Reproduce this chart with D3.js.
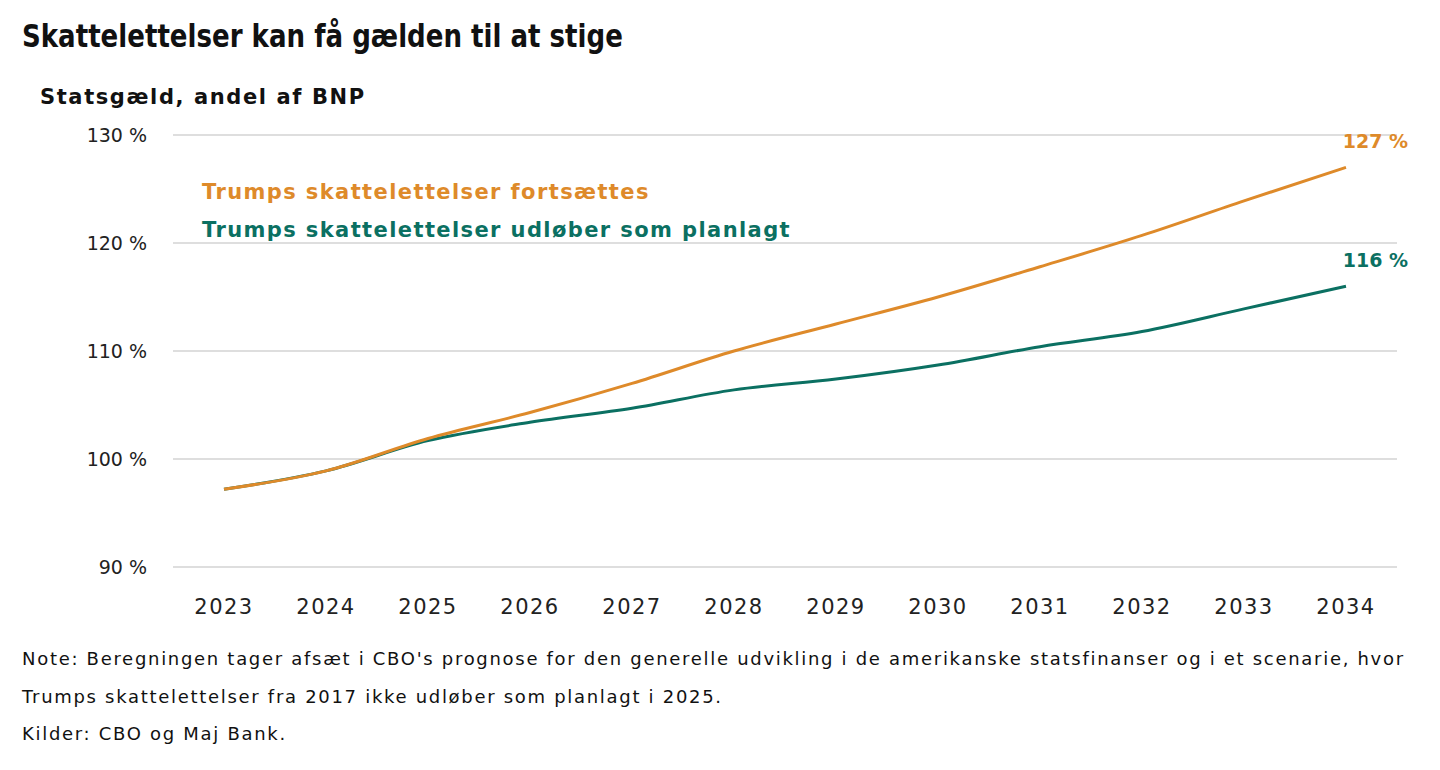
<!DOCTYPE html>
<html>
<head>
<meta charset="utf-8">
<script src="https://cdn.jsdelivr.net/npm/d3@7"></script>
<style>
  body { margin: 0; background: #fff; }
  text { font-family: "DejaVu Sans", Verdana, sans-serif; }
</style>
</head>
<body>
<svg id="chart"></svg>
<script>
// Data
const years = ["2023", "2024", "2025", "2026", "2027", "2028", "2029", "2030", "2031", "2032", "2033", "2034"];
const continued = [97.2, 98.9, 101.9, 104.3, 107.0, 110.0, 112.5, 115.0, 117.8, 120.7, 123.9, 127.0];
const expires = [97.2, 98.9, 101.7, 103.4, 104.7, 106.4, 107.4, 108.7, 110.4, 111.8, 113.9, 116.0];
const yTicks = [90, 100, 110, 120, 130];
const seriesNames = ["Trumps skattelettelser fortsættes", "Trumps skattelettelser udløber som planlagt"];
const endLabels = ["127 %", "116 %"];
const colors = ["#de8a2a", "#0b7062"];

const width = 1440;
const height = 770;
const svg = d3.select("#chart").attr("width", width).attr("height", height);

const x = d3.scaleBand().domain(years).range([173, 1397]);
const y = d3.scaleLinear().domain([90, 130]).range([567, 135]);

// Title and subtitle
svg.append("text")
    .attr("x", 22).attr("y", 47)
    .attr("transform", "translate(0,47) scale(1,1.12) translate(0,-47)")
    .style("font-family", "'DejaVu Sans Condensed', 'DejaVu Sans', sans-serif")
    .style("font-weight", "bold")
    .style("font-size", "29px")
    .attr("fill", "#111")
    .text("Skattelettelser kan få gælden til at stige");

svg.append("text")
    .attr("x", 40).attr("y", 104)
    .style("font-size", "21px")
    .style("font-weight", "600")
    .style("letter-spacing", "1.6px")
    .attr("fill", "#111")
    .text("Statsgæld, andel af BNP");

// Gridlines
svg.selectAll(".grid")
    .data(yTicks)
    .enter()
    .append("line")
    .attr("x1", 173).attr("x2", 1397)
    .attr("y1", (d) => y(d)).attr("y2", (d) => y(d))
    .attr("stroke", "#dedede")
    .attr("stroke-width", 2);

// Y axis labels
svg.selectAll(".ytick")
    .data(yTicks)
    .enter()
    .append("text")
    .attr("x", 147)
    .attr("y", (d) => y(d) + 7)
    .attr("text-anchor", "end")
    .style("font-size", "19px")
    .attr("fill", "#222")
    .text((d) => d + " %");

// X axis labels
svg.selectAll(".xtick")
    .data(years)
    .enter()
    .append("text")
    .attr("x", (d) => x(d) + x.bandwidth() / 2)
    .attr("y", 614)
    .attr("text-anchor", "middle")
    .style("font-size", "21px")
    .style("letter-spacing", "1.5px")
    .attr("fill", "#222")
    .text((d) => d);

// Lines
const line = d3.line()
    .x((d, i) => x(years[i]) + x.bandwidth() / 2)
    .y((d) => y(d))
    .curve(d3.curveMonotoneX);

[expires, continued].forEach((s, k) => {
    svg.append("path")
        .datum(s)
        .attr("d", line)
        .attr("fill", "none")
        .attr("stroke", colors[1 - k])
        .attr("stroke-width", 3);
});

// Legend
seriesNames.forEach((name, i) => {
    svg.append("text")
        .attr("x", 202)
        .attr("y", 199 + i * 38)
        .style("font-size", "21px")
        .style("font-weight", "bold")
        .style("letter-spacing", "1.4px")
        .attr("fill", colors[i])
        .text(name);
});

// End labels
[continued, expires].forEach((s, i) => {
    svg.append("text")
        .attr("x", 1408)
        .attr("y", y(s[s.length - 1]) - 19)
        .attr("text-anchor", "end")
        .style("font-size", "19px")
        .style("font-weight", "bold")
        .attr("fill", colors[i])
        .text(endLabels[i]);
});

// Notes
const notes = [
    "Note: Beregningen tager afsæt i CBO's prognose for den generelle udvikling i de amerikanske statsfinanser og i et scenarie, hvor",
    "Trumps skattelettelser fra 2017 ikke udløber som planlagt i 2025.",
    "Kilder: CBO og Maj Bank."
];
svg.selectAll(".note")
    .data(notes)
    .enter()
    .append("text")
    .attr("x", 22)
    .attr("y", (d, i) => 665 + i * 37.5)
    .style("font-size", "18px")
    .style("letter-spacing", "1.7px")
    .attr("fill", "#111")
    .text((d) => d);
</script>
</body>
</html>
